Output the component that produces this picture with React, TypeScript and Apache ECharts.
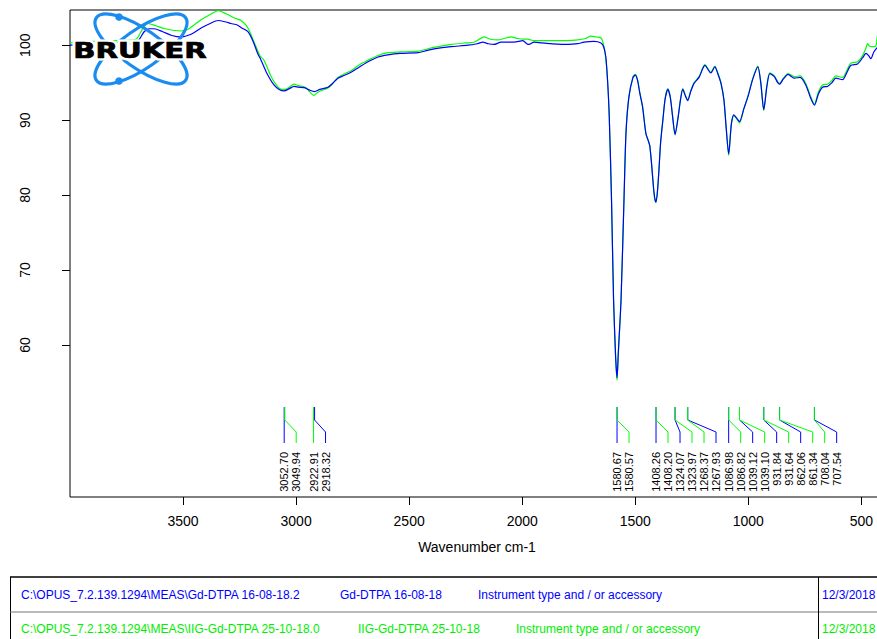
import React, { useEffect, useRef } from "react";
import * as echarts from "echarts";

const FONT = '"Liberation Sans", Arial, sans-serif';
const BLUE = "#0000ff";
const GREEN = "#00ff00";
const LOGO_BLUE = "#1a8cf0";

const xTicks = [3500, 3000, 2500, 2000, 1500, 1000, 500];
const yTicks = [60, 70, 80, 90, 100];

// Spectrum 1: Gd-DTPA 16-08-18 (blue) — [wavenumber, transmittance %]
const blueSpectrum: [number, number][] = [
  [4000, 100.0], [3900, 100.1], [3800, 100.1], [3716, 100.2], [3695, 100.7], [3672, 101.8],
  [3650, 102.2], [3628, 102.2], [3590, 101.8], [3550, 101.3], [3509, 101.1], [3480, 101.3],
  [3456, 101.6], [3420, 102.3], [3380, 102.9], [3345, 103.3], [3310, 103.1], [3288, 102.9],
  [3260, 102.7], [3240, 102.3], [3213, 101.8], [3190, 100.5], [3170, 98.9], [3155, 98.0],
  [3130, 96.3], [3098, 94.7], [3075, 94.1], [3052.7, 93.9], [3030, 94.2], [3009, 94.5],
  [2990, 94.4], [2960, 94.3], [2940, 94.0], [2918.3, 93.8], [2895, 94.1], [2859, 94.4],
  [2835, 95.0], [2815, 95.6], [2785, 96.0], [2757, 96.4], [2720, 97.1], [2682, 97.8],
  [2640, 98.4], [2594, 98.7], [2540, 98.9], [2461, 99.0], [2420, 99.3], [2390, 99.5],
  [2315, 99.8], [2240, 100.0], [2200, 100.2], [2174, 100.4], [2150, 100.2], [2125, 100.1],
  [2094, 100.4], [2036, 100.4], [1997, 100.6], [1980, 100.2], [1970, 100.1], [1948, 100.4],
  [1915, 100.3], [1873, 100.2], [1798, 100.1], [1755, 100.2], [1727, 100.4], [1683, 100.5],
  [1652, 100.3], [1640, 99.8], [1630, 98.4], [1622, 95.0], [1615, 90.4], [1605, 79.3],
  [1596, 66.0], [1587, 58.5], [1580.67, 55.6], [1575, 59.0], [1563, 66.0], [1550, 79.3],
  [1541, 88.3], [1528, 93.1], [1510, 95.7], [1500, 96.0], [1490, 95.3], [1480, 93.6],
  [1468, 91.8], [1453, 88.2], [1443, 87.3], [1436, 86.6], [1428, 84.2], [1420, 81.2],
  [1414, 79.6], [1408.26, 79.1], [1402, 80.5], [1396, 83.0], [1388, 87.0], [1378, 90.0],
  [1368, 92.8], [1356, 94.1], [1345, 93.0], [1335, 90.5], [1324.07, 88.1], [1311, 90.3],
  [1300, 92.7], [1290, 94.1], [1278, 93.2], [1267.93, 92.6], [1255, 93.8], [1240, 94.9],
  [1218, 95.7], [1192, 97.3], [1166, 96.3], [1148, 97.1], [1135, 96.2], [1121, 94.9],
  [1108, 92.7], [1098, 89.0], [1086.98, 85.5], [1075, 89.5], [1064, 90.7], [1050, 90.2],
  [1039.12, 89.8], [1020, 91.5], [1002, 93.1], [980, 95.5], [958, 97.1], [945, 95.0],
  [931.84, 91.4], [918, 94.5], [905, 96.2], [885, 95.8], [870, 95.0], [862.06, 94.8],
  [845, 95.5], [824, 96.1], [797, 95.6], [771, 95.7], [746, 94.7], [725, 93.0],
  [707.54, 92.0], [690, 93.5], [672, 94.4], [650, 94.5], [630, 95.0], [613, 95.6],
  [583, 95.4], [565, 96.3], [547, 97.3], [517, 97.5], [495, 98.3], [480, 98.9],
  [468, 98.6], [458, 98.2], [445, 99.1], [427, 99.8], [410, 100.5], [400, 101.0],
];

// Spectrum 2: IIG-Gd-DTPA 25-10-18 (green)
const greenSpectrum: [number, number][] = [
  [4000, 100.3], [3900, 100.5], [3800, 100.6], [3708, 100.8], [3690, 101.6], [3672, 102.5],
  [3655, 102.9], [3620, 102.6], [3580, 102.2], [3509, 101.9], [3480, 102.1], [3465, 102.4],
  [3420, 103.4], [3380, 104.1], [3345, 104.6], [3310, 104.2], [3270, 103.6], [3243, 103.3],
  [3220, 102.6], [3208, 102.0], [3180, 100.0], [3160, 98.6], [3142, 98.0], [3110, 95.8],
  [3080, 94.4], [3062, 94.1], [3049.94, 94.1], [3030, 94.4], [3009, 94.8], [2990, 94.6],
  [2960, 94.4], [2940, 93.8], [2922.9, 93.3], [2900, 93.8], [2859, 94.3], [2835, 95.0],
  [2815, 95.7], [2785, 96.2], [2757, 96.6], [2720, 97.4], [2682, 98.0], [2640, 98.6],
  [2594, 99.0], [2540, 99.1], [2461, 99.2], [2420, 99.5], [2390, 99.7], [2315, 100.1],
  [2250, 100.3], [2213, 100.4], [2190, 100.8], [2169, 101.1], [2140, 100.8], [2107, 100.7],
  [2080, 100.9], [2050, 101.1], [2020, 100.9], [1995, 100.8], [1975, 100.8], [1948, 100.6],
  [1873, 100.6], [1800, 100.6], [1754, 100.7], [1720, 100.9], [1696, 101.2], [1670, 101.1],
  [1652, 101.0], [1643, 100.4], [1632, 98.6], [1622, 95.0], [1615, 90.4], [1605, 79.3],
  [1596, 66.0], [1587, 58.3], [1580.57, 55.3], [1575, 58.8], [1563, 66.0], [1550, 79.3],
  [1541, 88.4], [1528, 93.2], [1510, 95.8], [1500, 96.1], [1490, 95.4], [1480, 93.7],
  [1468, 91.9], [1453, 88.2], [1443, 87.3], [1436, 86.6], [1428, 84.2], [1420, 81.2],
  [1414, 79.5], [1408.2, 79.0], [1402, 80.4], [1396, 83.0], [1388, 87.0], [1378, 90.0],
  [1368, 92.9], [1356, 94.2], [1345, 93.1], [1335, 90.5], [1323.97, 88.0], [1311, 90.3],
  [1300, 92.8], [1290, 94.2], [1278, 93.3], [1268.37, 92.7], [1255, 93.9], [1240, 95.0],
  [1218, 95.8], [1192, 97.4], [1166, 96.4], [1148, 97.2], [1135, 96.3], [1121, 95.0],
  [1108, 92.7], [1098, 89.0], [1086.82, 85.3], [1075, 89.5], [1064, 90.6], [1050, 90.1],
  [1039.1, 89.6], [1020, 91.5], [1002, 93.2], [980, 95.6], [958, 97.2], [945, 95.0],
  [931.64, 91.3], [918, 94.6], [905, 96.3], [885, 95.9], [870, 95.1], [861.34, 94.9],
  [845, 95.6], [824, 96.2], [797, 95.8], [771, 95.9], [746, 94.9], [725, 93.2],
  [708.04, 92.1], [690, 93.8], [672, 94.7], [650, 94.8], [630, 95.3], [613, 95.9],
  [583, 95.7], [565, 96.6], [547, 97.6], [517, 97.8], [495, 98.6], [480, 99.6],
  [473, 100.2], [465, 99.9], [450, 99.8], [436, 99.9], [427, 101.6], [410, 102.5], [400, 103.0],
];

// Peak picks, in the order they are labelled
const peakValues = [
  3052.7, 3049.94, 2922.91, 2918.32,
  1580.67, 1580.57, 1408.26, 1408.2, 1324.07, 1323.97, 1268.37, 1267.93,
  1086.98, 1086.82, 1039.12, 1039.1, 931.84, 931.64, 862.06, 861.34, 708.04, 707.54,
];
const peakSeries = [
  "B", "G", "G", "B",
  "B", "G", "B", "G", "B", "G", "G", "B",
  "B", "G", "B", "G", "B", "G", "B", "G", "G", "B",
];

const footerRows = [
  { color: BLUE, cols: ["C:\\OPUS_7.2.139.1294\\MEAS\\Gd-DTPA 16-08-18.2", "Gd-DTPA 16-08-18", "Instrument type and / or accessory", "12/3/2018"], xs: [21, 340, 478, 822] },
  { color: "#00ee00", cols: ["C:\\OPUS_7.2.139.1294\\MEAS\\IIG-Gd-DTPA 25-10-18.0", "IIG-Gd-DTPA 25-10-18", "Instrument type and / or accessory", "12/3/2018"], xs: [21, 358, 516, 822] },
];

const Y_MIN = 39.7;
const Y_MAX = 104.7;
const X_MIN = 400;
const X_MAX = 4000;
const LABEL_GAP = 12;

export default function App() {
  const ref = useRef<HTMLDivElement>(null);

  useEffect(() => {
    document.body.style.margin = "0";
    if (!ref.current) return;
    const chart = echarts.init(ref.current, undefined, { renderer: "svg" });

    const logo: any[] = [
      {
        type: "ellipse", x: 141, y: 49, rotation: (35 * Math.PI) / 180, z: 10,
        shape: { cx: 0, cy: 0, rx: 54.5, ry: 19.2 },
        style: { fill: "none", stroke: LOGO_BLUE, lineWidth: 3.2 },
      },
      {
        type: "ellipse", x: 141, y: 49, rotation: (-35 * Math.PI) / 180, z: 10,
        shape: { cx: 0, cy: 0, rx: 54.5, ry: 19.2 },
        style: { fill: "none", stroke: LOGO_BLUE, lineWidth: 3.2 },
      },
      { type: "circle", z: 11, shape: { cx: 119, cy: 17, r: 3.8 }, style: { fill: LOGO_BLUE } },
      { type: "circle", z: 11, shape: { cx: 119, cy: 81, r: 3.8 }, style: { fill: LOGO_BLUE } },
      {
        type: "text", x: 140, y: 51, scaleX: 1.39, z: 12,
        style: {
          text: "BRUKER", font: 'bold 21px "DejaVu Sans"', fill: "#fff", stroke: "#fff", lineWidth: 5,
          align: "center", verticalAlign: "middle", textAlign: "center", textVerticalAlign: "middle",
        },
      },
      {
        type: "text", x: 140, y: 51, scaleX: 1.39, z: 13,
        style: {
          text: "BRUKER", font: 'bold 21px "DejaVu Sans"', fill: "#000", stroke: "#000", lineWidth: 0.7,
          align: "center", verticalAlign: "middle", textAlign: "center", textVerticalAlign: "middle",
        },
      },
    ];

    const table: any[] = [
      { type: "line", z: 5, shape: { x1: 10, y1: 577, x2: 900, y2: 577 }, style: { stroke: "#000", lineWidth: 1.5 } },
      { type: "line", z: 5, shape: { x1: 10.5, y1: 577, x2: 10.5, y2: 660 }, style: { stroke: "#000", lineWidth: 1 } },
      { type: "line", z: 5, shape: { x1: 10, y1: 612, x2: 900, y2: 612 }, style: { stroke: "#777", lineWidth: 1 } },
      { type: "line", z: 5, shape: { x1: 818.5, y1: 577, x2: 818.5, y2: 660 }, style: { stroke: "#000", lineWidth: 1 } },
    ];
    footerRows.forEach((row, r) => {
      row.cols.forEach((t, c) => {
        table.push({
          type: "text", z: 6, x: row.xs[c], y: 595 + r * 34,
          style: {
            text: t, font: `12px ${FONT}`, fill: row.color,
            align: "left", verticalAlign: "middle", textAlign: "left", textVerticalAlign: "middle",
          },
        });
      });
    });

    const option: any = {
      animation: false,
      backgroundColor: "#ffffff",
      grid: {
        left: 70, right: -7, top: 10, bottom: 142,
        show: true, borderColor: "#000", borderWidth: 1, backgroundColor: "transparent",
        outerBoundsMode: "none", containLabel: false,
      },
      xAxis: {
        type: "value", inverse: true, min: X_MIN, max: X_MAX,
        name: "Wavenumber cm-1", nameLocation: "middle", nameGap: 43,
        nameTextStyle: { color: "#000", fontSize: 14, fontFamily: FONT },
        axisLine: { show: false },
        axisTick: { show: true, length: 8, lineStyle: { color: "#000", width: 1 }, customValues: xTicks },
        axisLabel: {
          color: "#000", fontSize: 14, fontFamily: FONT, margin: 17, customValues: xTicks,
          formatter: (v: number) => String(v),
        },
        splitLine: { show: false },
      },
      yAxis: {
        type: "value", min: Y_MIN, max: Y_MAX,
        axisLine: { show: false },
        axisTick: { show: true, length: 8, lineStyle: { color: "#000", width: 1 }, customValues: yTicks },
        axisLabel: {
          color: "#000", fontSize: 14, fontFamily: FONT, rotate: 90, margin: 38, customValues: yTicks,
          formatter: (v: number) => String(v),
        },
        splitLine: { show: false },
      },
      series: [
        {
          type: "line", name: "IIG-Gd-DTPA 25-10-18", data: greenSpectrum, showSymbol: false,
          smooth: 0.25, lineStyle: { color: GREEN, width: 1.2 }, itemStyle: { color: GREEN }, z: 2,
        },
        {
          type: "line", name: "Gd-DTPA 16-08-18", data: blueSpectrum, showSymbol: false,
          smooth: 0.25, lineStyle: { color: BLUE, width: 1.2 }, itemStyle: { color: BLUE }, z: 3,
        },
        {
          type: "custom", coordinateSystem: "cartesian2d", silent: true, clip: false, z: 4,
          data: peakValues.map((w) => [w, Y_MIN]),
          encode: { x: 0, y: 1 },
          renderItem: (params: any, api: any) => {
            const idx = params.dataIndex;
            const bottom = api.coord([peakValues[0], Y_MIN])[1];
            let slot = -Infinity;
            let lx = 0;
            let px = 0;
            for (let j = 0; j <= idx; j++) {
              const x = api.coord([peakValues[j], Y_MIN])[0];
              slot = Math.max(x, slot + LABEL_GAP);
              if (j === idx) {
                lx = slot;
                px = x;
              }
            }
            const isGreen = peakSeries[idx] === "G";
            const color = isGreen ? GREEN : BLUE;
            return {
              type: "group",
              children: [
                {
                  type: "polyline", z2: isGreen ? 2 : 1,
                  shape: { points: [[px, bottom - 90], [px, bottom - 77], [lx, bottom - 65], [lx, bottom - 54]] },
                  style: { stroke: color, lineWidth: 1, fill: "none" },
                },
                {
                  type: "text", x: lx, y: bottom - 45, rotation: Math.PI / 2,
                  style: {
                    text: peakValues[idx].toFixed(2), font: `11px ${FONT}`, fill: "#000",
                    align: "right", verticalAlign: "middle", textAlign: "right", textVerticalAlign: "middle",
                  },
                },
              ],
            };
          },
        },
      ],
      graphic: [...logo, ...table],
    };

    chart.setOption(option);
    return () => chart.dispose();
  }, []);

  return <div ref={ref} style={{ width: 877, height: 639 }} />;
}
